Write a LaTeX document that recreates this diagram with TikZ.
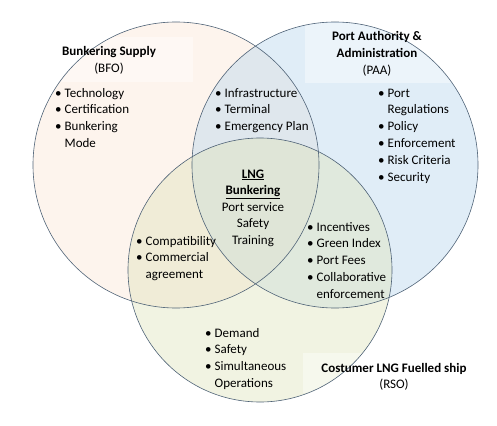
\documentclass[tikz,border=0pt]{standalone}
\usepackage{fontspec}
\setmainfont{Carlito}
\definecolor{ringc}{RGB}{78,98,118}
\definecolor{cA}{RGB}{251,230,214}
\definecolor{cB}{RGB}{186,215,238}
\definecolor{cC}{RGB}{224,228,190}
\newcommand{\bl}{\textbullet}
\begin{document}
\begin{tikzpicture}[x=1pt,y=-1pt,
  ring/.style={draw=ringc, line width=0.6pt},
  disc/.style={fill opacity=0.45},
  titlebox/.style={fill=white, fill opacity=0.4, draw=none},
  lst/.style={anchor=base west, inner sep=0pt, font=\fontsize{13}{16.8}\selectfont},
  ttl/.style={anchor=base, inner sep=0pt, font=\fontsize{13}{16.6}\selectfont}]
\useasboundingbox (0,0) rectangle (497,425);
% circles
\coordinate (cbfo) at (176,165);
\coordinate (cpaa) at (335,165);
\coordinate (crso) at (260,270);
\fill[cA, disc] (cbfo) circle[radius=143pt];
\fill[cB, disc] (cpaa) circle[radius=143pt];
\fill[cC, disc] (crso) circle[radius=132pt];
% title boxes
\fill[titlebox] (53,37) rectangle (193,82);
\fill[titlebox] (305,23) rectangle (453,83);
\fill[titlebox] (303,353) rectangle (497,393);
% outlines
\draw[ring] (cbfo) circle[radius=143pt];
\draw[ring] (cpaa) circle[radius=143pt];
\draw[ring] (crso) circle[radius=132pt];
% titles
\node[ttl] (tbfo) at (109,56) {\begin{tabular}[t]{@{}c@{}}\textbf{Bunkering Supply}\\(BFO)\end{tabular}};
\node[ttl] (tpaa) at (377,41) {\begin{tabular}[t]{@{}c@{}}\textbf{Port Authority \&}\\\textbf{Administration}\\(PAA)\end{tabular}};
\node[ttl] (trso) at (394,372) {\begin{tabular}[t]{@{}c@{}}\textbf{Costumer LNG Fuelled ship}\\(RSO)\end{tabular}};
\node[ttl] (tlng) at (253,178) {\begin{tabular}[t]{@{}c@{}}\textbf{\underline{LNG}}\\\textbf{\underline{Bunkering}}\\Port service\\Safety\\Training\end{tabular}};
% lists
\node[lst] (lbfo) at (55,97) {\begin{tabular}[t]{@{}l@{\hspace{3pt}}l@{}}\bl & Technology\\ \bl & Certification\\ \bl & Bunkering\\ & Mode\end{tabular}};
\node[lst] (lbp) at (215,97) {\begin{tabular}[t]{@{}l@{\hspace{3pt}}l@{}}\bl & Infrastructure\\ \bl & Terminal\\ \bl & Emergency Plan\end{tabular}};
\node[lst] (lpaa) at (378,97) {\begin{tabular}[t]{@{}l@{\hspace{3pt}}l@{}}\bl & Port\\ & Regulations\\ \bl & Policy\\ \bl & Enforcement\\ \bl & Risk Criteria\\ \bl & Security\end{tabular}};
\node[lst] (lbr) at (136,245) {\begin{tabular}[t]{@{}l@{\hspace{3pt}}l@{}}\bl & Compatibility\\ \bl & Commercial\\ & agreement\end{tabular}};
\node[lst] (lpr) at (307,231) {\begin{tabular}[t]{@{}l@{\hspace{3pt}}l@{}}\bl & Incentives\\ \bl & Green Index\\ \bl & Port Fees\\ \bl & Collaborative\\ & enforcement\end{tabular}};
\node[lst] (lrso) at (205,337) {\begin{tabular}[t]{@{}l@{\hspace{3pt}}l@{}}\bl & Demand\\ \bl & Safety\\ \bl & Simultaneous\\ & Operations\end{tabular}};
\end{tikzpicture}
\end{document}
